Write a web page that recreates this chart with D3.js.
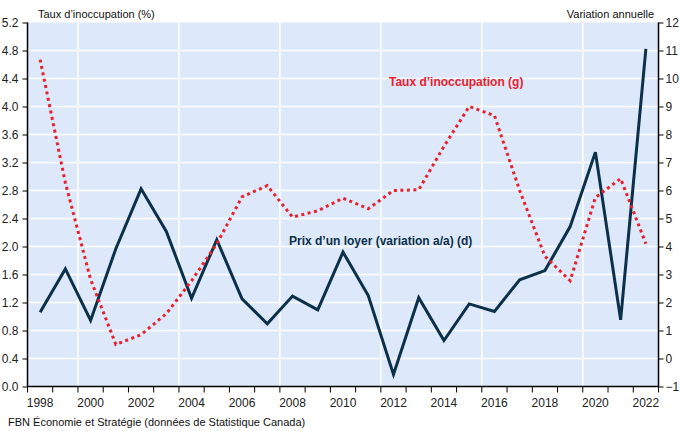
<!DOCTYPE html>
<html>
<head>
<meta charset="utf-8">
<script src="https://cdn.jsdelivr.net/npm/d3@7"></script>
<style>
  body { margin: 0; background: #fff; }
  svg text { font-family: "Liberation Sans", Arial, sans-serif; }
</style>
</head>
<body>
<div id="chart"></div>
<script>
// years on the x axis
const years = [1998, 1999, 2000, 2001, 2002, 2003, 2004, 2005, 2006, 2007, 2008, 2009, 2010,
               2011, 2012, 2013, 2014, 2015, 2016, 2017, 2018, 2019, 2020, 2021, 2022];

// vacancy rate (%), left axis
const vacancy = [4.67, 2.91, 1.53, 0.60, 0.74, 1.04, 1.51, 2.04, 2.71, 2.87, 2.42, 2.51, 2.69,
                 2.54, 2.80, 2.81, 3.43, 4.00, 3.87, 2.80, 1.86, 1.51, 2.70, 2.97, 2.04];

// rent price, y/y change, right axis
const rent = [1.65, 3.20, 1.36, 3.92, 6.06, 4.54, 2.15, 4.24, 2.13, 1.24, 2.23, 1.74, 3.80,
              2.25, -0.57, 2.17, 0.64, 1.95, 1.68, 2.81, 3.14, 4.71, 7.37, 1.38, 11.06];

const leftTicks = [0.0, 0.4, 0.8, 1.2, 1.6, 2.0, 2.4, 2.8, 3.2, 3.6, 4.0, 4.4, 4.8, 5.2];
const rightTicks = [-1, 0, 1, 2, 3, 4, 5, 6, 7, 8, 9, 10, 11, 12];

const W = 680, H = 431;
const pL = 27.5, pR = 658.5, pT = 22.5, pB = 386.5;

const svg = d3.select("#chart")
  .append("svg")
    .attr("width", W)
    .attr("height", H);

const x = d3.scaleBand()
  .domain(years)
  .range([pL, pR])
  .paddingInner(0)
  .paddingOuter(0);

const yL = d3.scaleLinear().domain([0, 5.2]).range([pB, pT]);
const yR = d3.scaleLinear().domain([-1, 12]).range([pB, pT]);

const cx = d => x(d) + x.bandwidth() / 2;

// plot background
svg.append("rect")
  .attr("x", pL)
  .attr("y", pT)
  .attr("width", pR - pL)
  .attr("height", pB - pT)
  .attr("fill", "#dde9fb");

// horizontal grid
svg.append("g")
  .selectAll("line")
  .data(leftTicks.slice(1, -1))
  .join("line")
    .attr("x1", pL)
    .attr("x2", pR)
    .attr("y1", d => yL(d))
    .attr("y2", d => yL(d))
    .attr("stroke", "#fff")
    .attr("stroke-width", 1.5);

// vertical grid every 4 years (at category boundaries)
const vgrid = years.filter(d => (d - 1999) % 4 === 0);
svg.append("g")
  .selectAll("line")
  .data(vgrid)
  .join("line")
    .attr("x1", d => x(d) + x.bandwidth())
    .attr("x2", d => x(d) + x.bandwidth())
    .attr("y1", pT)
    .attr("y2", pB)
    .attr("stroke", "#fff")
    .attr("stroke-width", 1.5);

// left axis
svg.append("g")
  .attr("transform", `translate(${pL},0)`)
  .call(d3.axisLeft(yL).tickValues(leftTicks).tickFormat(d3.format(".1f")).tickSize(5).tickPadding(4))
  .call(g => g.select(".domain").attr("stroke", "#000").attr("stroke-width", 1.5).attr("d", `M0,${pT}V${pB}`))
  .call(g => g.selectAll("text").attr("font-size", 12).attr("fill", "#222").style("font-family", "Liberation Sans, Arial, sans-serif"));

// right axis
svg.append("g")
  .attr("transform", `translate(${pR},0)`)
  .call(d3.axisRight(yR).tickValues(rightTicks).tickFormat(d3.format("d")).tickSize(5).tickPadding(2))
  .call(g => g.select(".domain").attr("stroke", "#000").attr("stroke-width", 1.5).attr("d", `M0,${pT}V${pB}`))
  .call(g => g.selectAll("text").attr("font-size", 12).attr("fill", "#222").style("font-family", "Liberation Sans, Arial, sans-serif"));

// bottom axis: ticks at category boundaries, labels on even years
const xAxis = svg.append("g")
  .attr("transform", `translate(0,${pB})`);
xAxis.append("line")
  .attr("x1", pL).attr("x2", pR)
  .attr("stroke", "#000").attr("stroke-width", 1.5);
xAxis.selectAll(".tk")
  .data(years.concat([null]))
  .join("line")
    .attr("class", "tk")
    .attr("x1", (d, i) => i < years.length ? x(d) : pR)
    .attr("x2", (d, i) => i < years.length ? x(d) : pR)
    .attr("y1", 0)
    .attr("y2", 6)
    .attr("stroke", "#000");
xAxis.selectAll(".lb")
  .data(years.filter(d => d % 2 === 0))
  .join("text")
    .attr("class", "lb")
    .attr("x", d => cx(d))
    .attr("y", 20)
    .attr("text-anchor", "middle")
    .attr("font-size", 12)
    .attr("fill", "#222")
    .text(d => d);

// rent line
svg.append("path")
  .datum(years.map((d, i) => [d, rent[i]]))
  .attr("d", d3.line().x(d => cx(d[0])).y(d => yR(d[1])))
  .attr("fill", "none")
  .attr("stroke", "#0c3049")
  .attr("stroke-width", 3);

// vacancy line (dotted)
svg.append("path")
  .datum(years.map((d, i) => [d, vacancy[i]]))
  .attr("d", d3.line().x(d => cx(d[0])).y(d => yL(d[1])))
  .attr("fill", "none")
  .attr("stroke", "#e8202e")
  .attr("stroke-width", 3)
  .attr("stroke-dasharray", "3,3.5");

// series labels
svg.append("text")
  .attr("x", 389).attr("y", 86)
  .attr("font-size", 12).attr("font-weight", "bold")
  .attr("fill", "#e8202e")
  .text("Taux d’inoccupation (g)");

svg.append("text")
  .attr("x", 289).attr("y", 245)
  .attr("font-size", 12).attr("font-weight", "bold")
  .attr("fill", "#0c3049")
  .text("Prix d’un loyer (variation a/a) (d)");

// axis titles
svg.append("text")
  .attr("x", 38).attr("y", 18)
  .attr("font-size", 11).attr("fill", "#111")
  .text("Taux d’inoccupation (%)");

svg.append("text")
  .attr("x", 654).attr("y", 18)
  .attr("text-anchor", "end")
  .attr("font-size", 11).attr("fill", "#111")
  .text("Variation annuelle");

// source
svg.append("text")
  .attr("x", 8).attr("y", 426)
  .attr("font-size", 11).attr("fill", "#111")
  .text("FBN Économie et Stratégie (données de Statistique Canada)");
</script>
</body>
</html>
